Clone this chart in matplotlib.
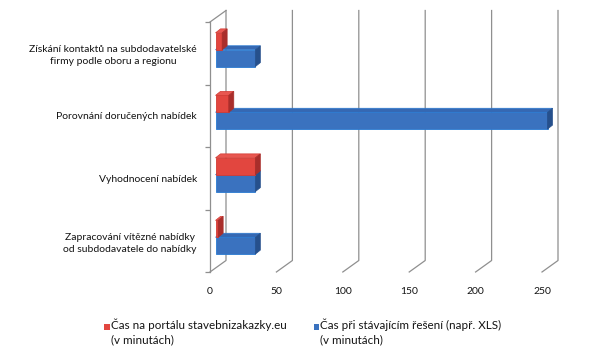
import matplotlib.pyplot as plt
from matplotlib.patches import Polygon, Rectangle
import numpy as np

plt.rcParams['font.family'] = ['Lato', 'DejaVu Sans']

# ==============================
# Data
# ==============================
categories = [
    "Získání kontaktů na subdodavatelské\nfirmy podle oboru a regionu",
    "Porovnání doručených nabídek",
    "Vyhodnocení nabídek",
    "Zapracování vítězné nabídky\nod subdodavatele do nabídky",
]
portal_minutes = [5, 10, 30, 2]       # red series
current_minutes = [30, 250, 30, 30]   # blue series
x_ticks = [0, 50, 100, 150, 200, 250]
legend_labels = [
    "Čas na portálu stavebnizakazky.eu\n(v minutách)",
    "Čas při stávajícím řešení (např. XLS)\n(v minutách)",
]

# colours: front, top, side, edge
red = ("#e2463f", "#e85750", "#a92e2b", "#d23a33")
blue = ("#3a72bf", "#3668b2", "#26508c", "#2a7ad2")
grid_color = "#8f8f8f"
text_color = "#141414"

# ==============================
# Figure / axes
# ==============================
W, H = 600, 361
fig = plt.figure(figsize=(W / 100, H / 100), dpi=100)
ax = fig.add_axes([210 / W, 1 - 272 / H, 332 / W, 250 / H])
ax.set_xlim(0, 250)
ax.set_ylim(0, 4)

# pixel -> data unit helpers (dy positive = up)
ux = 250 / 332
uy = 4 / 250

def off(dx, dy):
    return dx * ux, dy * uy

bx, by = off(16, 11.5)   # back wall offset
fx, fy = off(5.5, 3.5)   # bar front face offset
dx, dy = off(5, 4)       # bar depth

# ==============================
# Walls / gridlines
# ==============================
for v in x_ticks:
    ax.plot([v, v + bx, v + bx], [0, by, 4 + by], color=grid_color, lw=0.9,
            clip_on=False, zorder=1)
ax.plot([0, bx], [4, 4 + by], color=grid_color, lw=0.9, clip_on=False, zorder=1)

for s in ["top", "right", "bottom"]:
    ax.spines[s].set_visible(False)
ax.spines["left"].set_color(grid_color)
ax.spines["left"].set_linewidth(0.9)

ax.set_yticks(np.arange(0, 5))
ax.set_yticklabels([])
ax.tick_params(axis="y", which="major", length=3.5, color=grid_color, width=0.9)

centers = np.arange(len(categories))[::-1] + 0.5
ax.set_yticks(centers, categories, minor=True)
ax.tick_params(axis="y", which="minor", length=0, pad=9.5, labelsize=7.5, labelcolor=text_color)
for t in ax.get_yticklabels(minor=True):
    t.set_multialignment("center")
    t.set_linespacing(1.4)

ax.set_xticks(x_ticks)
ax.tick_params(axis="x", length=0, pad=11, labelsize=7.5, labelcolor=text_color)

# ==============================
# 3D-like bars
# ==============================
h = 0.27

def draw_bars(values, ys, cols, z):
    ax.barh(ys + fy, values, height=h, left=fx, color=cols[0], edgecolor=cols[3],
            linewidth=0.6, zorder=z, clip_on=False)
    for w, yc in zip(values, ys):
        y1 = yc + h / 2 + fy
        y0 = yc - h / 2 + fy
        top = [(fx, y1), (fx + w, y1), (fx + w + dx, y1 + dy), (fx + dx, y1 + dy)]
        side = [(fx + w, y0), (fx + w + dx, y0 + dy), (fx + w + dx, y1 + dy), (fx + w, y1)]
        ax.add_patch(Polygon(top, closed=True, facecolor=cols[1], edgecolor=cols[3],
                             lw=0.5, zorder=z + 0.1, clip_on=False))
        ax.add_patch(Polygon(side, closed=True, facecolor=cols[2], edgecolor=cols[2],
                             lw=0.5, zorder=z + 0.1, clip_on=False))

draw_bars(current_minutes, centers - h / 2, blue, 3)
draw_bars(portal_minutes, centers + h / 2, red, 4)

# ==============================
# Legend (marker aligned to first line)
# ==============================
for (mx, tx), lab, col in zip([(104, 111), (313.5, 320)], legend_labels, [red[0], blue[0]]):
    fig.patches.append(Rectangle((mx / W, 1 - 329.5 / H), 5.5 / W, 5.5 / H, transform=fig.transFigure,
                                 facecolor=col, edgecolor="none"))
    fig.text(tx / W, 1 - 318.5 / H, lab, ha="left", va="top", fontsize=8.4,
             color=text_color, linespacing=1.4)

fig.savefig("out.png", dpi=100)
